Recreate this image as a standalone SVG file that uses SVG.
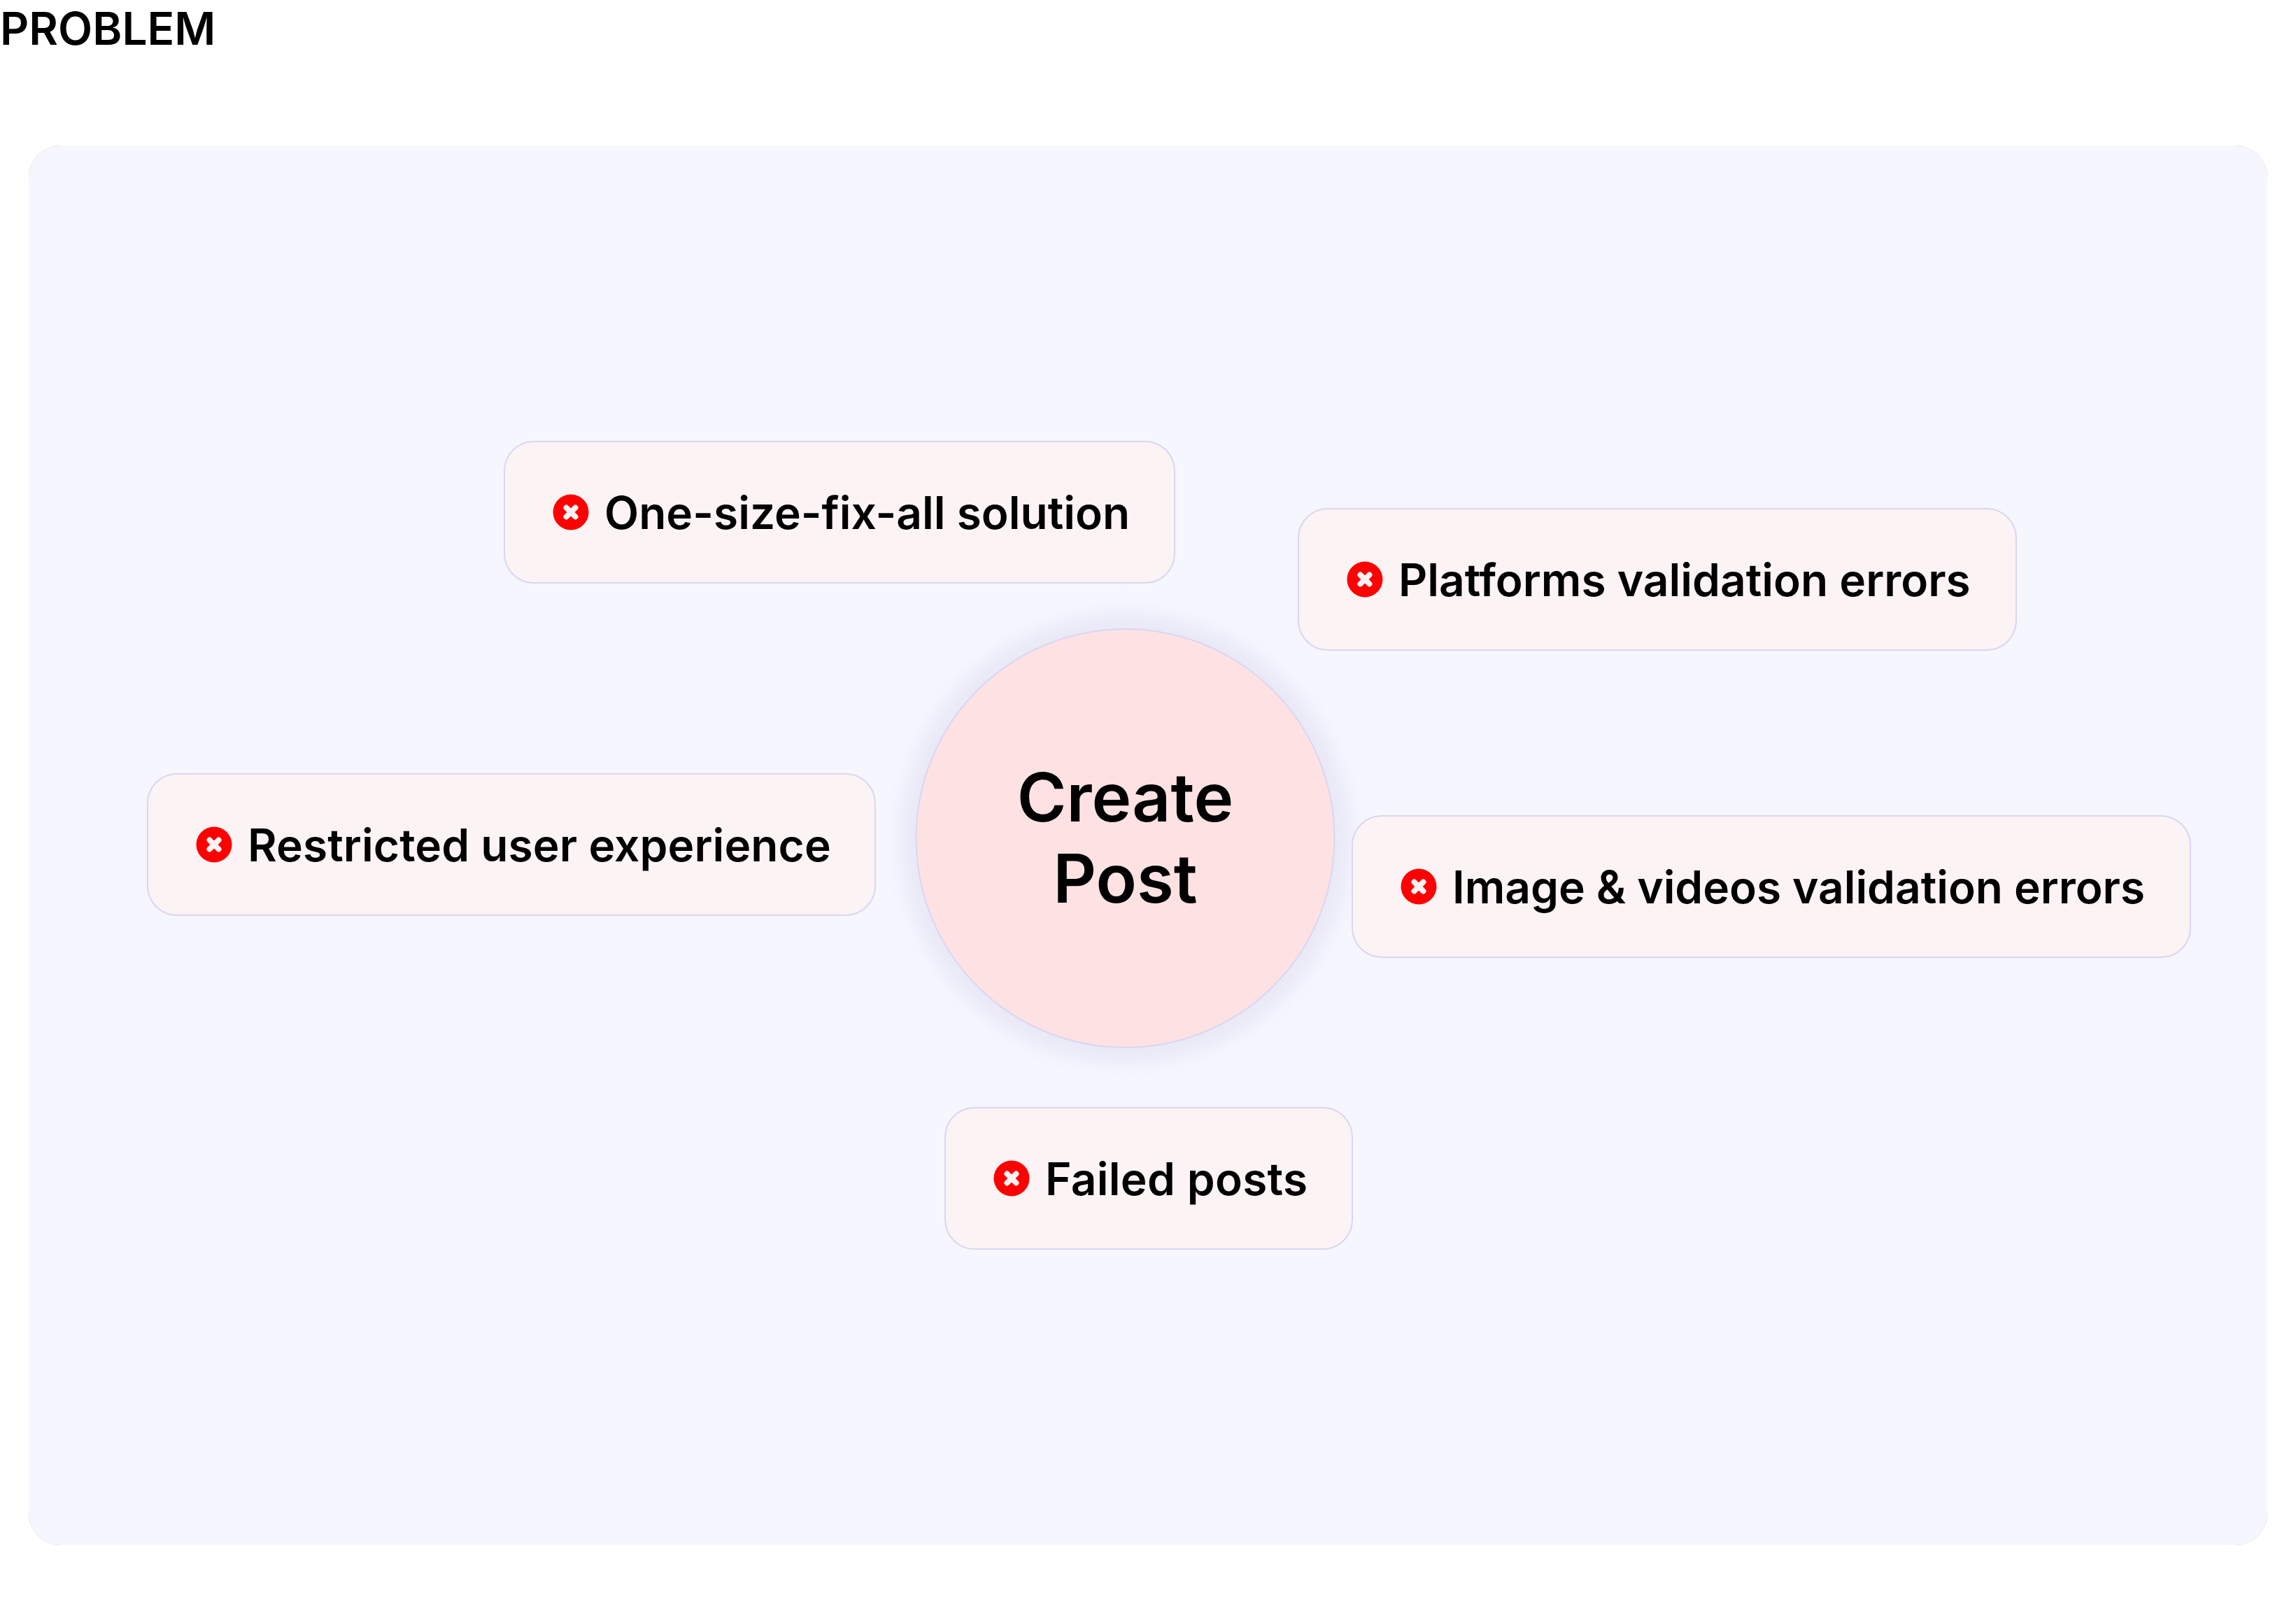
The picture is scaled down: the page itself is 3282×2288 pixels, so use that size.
<svg xmlns="http://www.w3.org/2000/svg" width="3282" height="2288" viewBox="0 0 3282 2288">
<style>
text{font-family:Inter,"Liberation Sans",sans-serif;fill:#000}
.b{fill:#fcf3f4;stroke:#d9d6f2;stroke-width:2}
.l{font-size:64px;font-weight:600}
.c{font-size:96px;font-weight:600;text-anchor:middle}
.i{fill:#f00}
.x{stroke:#fcf3f4;stroke-width:8;stroke-linecap:round;fill:none}
</style>
<defs>
<filter id="s" x="-20%" y="-20%" width="140%" height="140%"><feGaussianBlur stdDeviation="13"/></filter>
<g id="ic"><circle class="i" r="25.5"/><path class="x" d="M-6.500-6.500L6.500 6.500M6.500-6.500L-6.500 6.500"/></g>
</defs>
<rect width="3282" height="2288" fill="#fff"/>
<text x="0" y="63.500" font-size="64" font-weight="600">PROBLEM</text>
<rect x="41" y="208" width="3200" height="2000" rx="46" fill="#aaa"/>
<rect x="41" y="208" width="3200" height="2000" rx="46" fill="#f6f6ff"/>
<g id="connectors"></g>
<g id="center">
<circle cx="1608.500" cy="1198" r="322" fill="#e9e9f7" filter="url(#s)"/>
<circle cx="1608.500" cy="1198" r="299" fill="#fee2e3" stroke="#d9d6f2" stroke-width="2"/>
<text class="c" x="1608.500" y="1173.500">Create</text>
<text class="c" x="1608.500" y="1289.500">Post</text>
</g>
<g id="n1"><rect class="b" x="721" y="631" width="958" height="202" rx="42"/><use href="#ic" x="816" y="732"/><text class="l" x="864" y="756">One-size-fix-all solution</text></g>
<g id="n2"><rect class="b" x="1856" y="727" width="1026" height="202" rx="42"/><use href="#ic" x="1951" y="828"/><text class="l" x="1999" y="852">Platforms validation errors</text></g>
<g id="n3"><rect class="b" x="211" y="1106" width="1040" height="202" rx="42"/><use href="#ic" x="306" y="1207"/><text class="l" x="354" y="1231" letter-spacing=".08">Restricted user experience</text></g>
<g id="n4"><rect class="b" x="1933" y="1166" width="1198" height="202" rx="42"/><use href="#ic" x="2028" y="1267"/><text class="l" x="2076" y="1291" letter-spacing="-.06">Image &amp; videos validation errors</text></g>
<g id="n5"><rect class="b" x="1351" y="1583" width="582" height="202" rx="42"/><use href="#ic" x="1446" y="1684"/><text class="l" x="1494" y="1708" letter-spacing=".3">Failed posts</text></g>
</svg>
